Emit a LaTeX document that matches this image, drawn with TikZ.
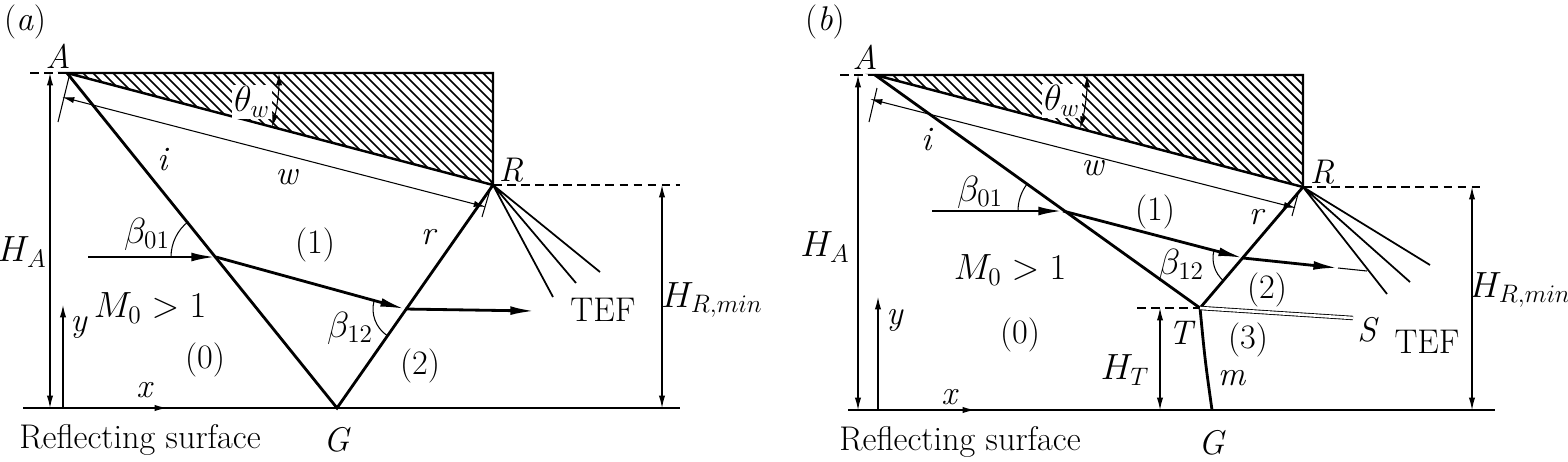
\documentclass[tikz,border=0pt]{standalone}
\usetikzlibrary{arrows.meta,calc}
\begin{document}
\begin{tikzpicture}[x=0.02cm,y=-0.02cm,
  lab/.style={inner sep=0pt,font=\fontsize{19.5}{22}\selectfont},
  thick1/.style={line width=1.6pt},
  thin1/.style={line width=0.6pt},
  big/.style={-{Latex[length=14pt,width=5pt]}},
  dim/.style={thin1,{Latex[length=7pt,width=3.5pt]}-{Latex[length=7pt,width=3.5pt]}},
  one/.style={thin1,-{Latex[length=7pt,width=3.5pt]}},
  dsh/.style={line width=1pt,dash pattern=on 5pt off 3pt}]
\useasboundingbox (0,0) rectangle (1568,461);
% ================= (a) =================
\coordinate (A) at (67,73); \coordinate (C) at (493,73); \coordinate (R) at (493,185);
\coordinate (G) at (337,408); \coordinate (P1) at (216,257); \coordinate (P2) at (405,309);
\begin{scope}
\clip (A)--(C)--(R)--cycle;
\foreach \k in {-20,...,60} \draw[line width=1pt] (60+\k*10,60)--++(150,150);
\end{scope}
\draw[line width=1.4pt] (A)--(C)--(R)--cycle;
\draw[dsh] (30,73)--(A);
\draw[dsh] (R)--(680,185);
\draw[line width=1.2pt] (23,408)--(680,408);
\draw[thick1] (A)--(G)--(R);
\coordinate (I0) at (88,257); \coordinate (Q2) at (535,311);
\draw[thick1,big] (I0)--(P1);
\draw[thick1,big] (P1)--(P2);
\draw[thick1,big] (P2)--(Q2);
\coordinate (F1) at (553,297); \coordinate (F2) at (576,283); \coordinate (F3) at (600,272);
\draw[line width=1pt] (F1)--(R)--(F2) (R)--(F3);
% w dimension
\coordinate (W1) at (62,97); \coordinate (W2) at (486,207);
\draw[dim] (W1)--(W2);
\draw[thin1] (58,122)--(69,77) (482,217)--(490,190);
\node[lab,fill=white,inner sep=1pt] (nth) at (252,102) {$\theta_w$};
\draw[dim] ($(A)+(0:212)$) arc[start angle=0,end angle=14.76,radius=212];
\draw[thin1] ($(P1)+(180:45)$) arc[start angle=180,end angle=232,radius=45];
\draw[thin1] ($(P2)+(125:32)$) arc[start angle=125,end angle=194.5,radius=32];
\coordinate (HA1) at (50,73); \coordinate (HA2) at (50,408);
\draw[dim] (HA1)--(HA2);
\coordinate (HR1) at (662,185); \coordinate (HR2) at (662,408);
\draw[dim] (HR1)--(HR2);
\coordinate (Y0) at (63,408); \coordinate (Y1) at (63,305);
\draw[one] (Y0)--(Y1);
\coordinate (X1) at (167,408);
\draw[one] (Y0)--(X1);
\node[lab] (la) at (25,22) {(\textit{a})};
\node[lab] (nA) at (58,56) {\textit{A}};
\node[lab] (nR) at (511,170) {\textit{R}};
\node[lab] (nG) at (337,440) {\textit{G}};
\node[lab] (ni) at (163,160) {\textit{i}};
\node[lab] (nw) at (287,177) {\textit{w}};
\node[lab] (n1) at (315,245) {(1)};
\node[lab] (nr) at (429,237) {\textit{r}};
\node[lab] (nb01) at (147,234) {$\beta_{01}$};
\node[lab] (nM) at (150,308) {$M_0>1$};
\node[lab] (nb12) at (350,328) {$\beta_{12}$};
\node[lab] (n0) at (205,360) {(0)};
\node[lab] (n2) at (420,366) {(2)};
\node[lab] (nT) at (603,310) {TEF};
\node[lab] (nHA) at (22,252) {$H_A$};
\node[lab] (nHR) at (712,300) {$H_{R,min}$};
\node[lab] (ny) at (79,327) {\textit{y}};
\node[lab] (nx) at (145,390) {\textit{x}};
\node[lab] (nS) at (140,440) {Reflecting surface};
% ================= (b) =================
\coordinate (bA) at (875,75); \coordinate (bC) at (1303,75); \coordinate (bR) at (1303,187);
\coordinate (bT) at (1200,308); \coordinate (bG) at (1212,410);
\coordinate (bP1) at (1063,211); \coordinate (bP2) at (1243,258);
\begin{scope}
\clip (bA)--(bC)--(bR)--cycle;
\foreach \k in {-20,...,60} \draw[line width=1pt] (868+\k*10,60)--++(150,150);
\end{scope}
\draw[line width=1.4pt] (bA)--(bC)--(bR)--cycle;
\draw[dsh] (840,75)--(bA);
\draw[dsh] (bR)--(1482,187);
\draw[dsh] (1137,308)--(bT);
\draw[line width=1.2pt] (848,410)--(1495,410);
\draw[thick1] (bA)--(bT)--(bR);
\draw[thick1] (bT) .. controls (1205,360) .. (bG);
\coordinate (bS) at (1353,318);
\draw[line width=0.5pt,double,double distance=1.5pt] (bT)--(bS);
\coordinate (bI0) at (932,211); \coordinate (bQ2) at (1338,268); \coordinate (bQ3) at (1367,271);
\draw[thick1,big] (bI0)--(bP1);
\draw[thick1,big] (bP1)--(bP2);
\draw[thick1,big] (bP2)--(bQ2);
\draw[thin1] (bQ2)--(bQ3);
\coordinate (bF1) at (1387,294); \coordinate (bF2) at (1410,282); \coordinate (bF3) at (1430,265);
\draw[line width=1pt] (bF1)--(bR)--(bF2) (bR)--(bF3);
\draw[dim] (870,99)--(1296,208);
\draw[thin1] (869,122)--(877,88) (1292,216)--(1298,194);
\node[lab,fill=white,inner sep=1pt] (bnth) at (1062,101) {$\theta_w$};
\draw[dim] ($(bA)+(0:212)$) arc[start angle=0,end angle=14.66,radius=212];
\draw[thin1] ($(bP1)+(180:45)$) arc[start angle=180,end angle=216,radius=45];
\draw[thin1] ($(bP2)+(131:30)$) arc[start angle=131,end angle=194.6,radius=30];
\coordinate (bHA1) at (858,75); \coordinate (bHA2) at (858,410);
\draw[dim] (bHA1)--(bHA2);
\coordinate (bHR1) at (1472,187); \coordinate (bHR2) at (1472,410);
\draw[dim] (bHR1)--(bHR2);
\coordinate (bHT1) at (1160,308); \coordinate (bHT2) at (1160,410);
\draw[dim] (bHT1)--(bHT2);
\coordinate (bY0) at (878,410); \coordinate (bY1) at (878,297);
\draw[one] (bY0)--(bY1);
\coordinate (bX1) at (975,410);
\draw[one] (bY0)--(bX1);
\node[lab] (lb) at (825,22) {(\textit{b})};
\node[lab] (bnA) at (865,57) {\textit{A}};
\node[lab] (bnR) at (1322,172) {\textit{R}};
\node[lab] (bnG) at (1212,443) {\textit{G}};
\node[lab] (bni) at (927,140) {\textit{i}};
\node[lab] (bnw) at (1093,168) {\textit{w}};
\node[lab] (bn1) at (1155,212) {(1)};
\node[lab] (bnr) at (1257,217) {\textit{r}};
\node[lab] (bnb01) at (980,192) {$\beta_{01}$};
\node[lab] (bnM) at (1010,270) {$M_0>1$};
\node[lab] (bnb12) at (1181,265) {$\beta_{12}$};
\node[lab] (bn0) at (1020,335) {(0)};
\node[lab] (bn2) at (1267,290) {(2)};
\node[lab] (bn3) at (1248,340) {(3)};
\node[lab] (bnT) at (1182,333) {\textit{T}};
\node[lab] (bnS) at (1368,330) {\textit{S}};
\node[lab] (bnm) at (1232,378) {\textit{m}};
\node[lab] (bnHT) at (1125,370) {$H_T$};
\node[lab] (bnTEF) at (1427,342) {TEF};
\node[lab] (bnHA) at (825,247) {$H_A$};
\node[lab] (bnHR) at (1520,290) {$H_{R,min}$};
\node[lab] (bny) at (895,320) {\textit{y}};
\node[lab] (bnx) at (950,397) {\textit{x}};
\node[lab] (bnS2) at (960,442) {Reflecting surface};
\end{tikzpicture}
\end{document}
